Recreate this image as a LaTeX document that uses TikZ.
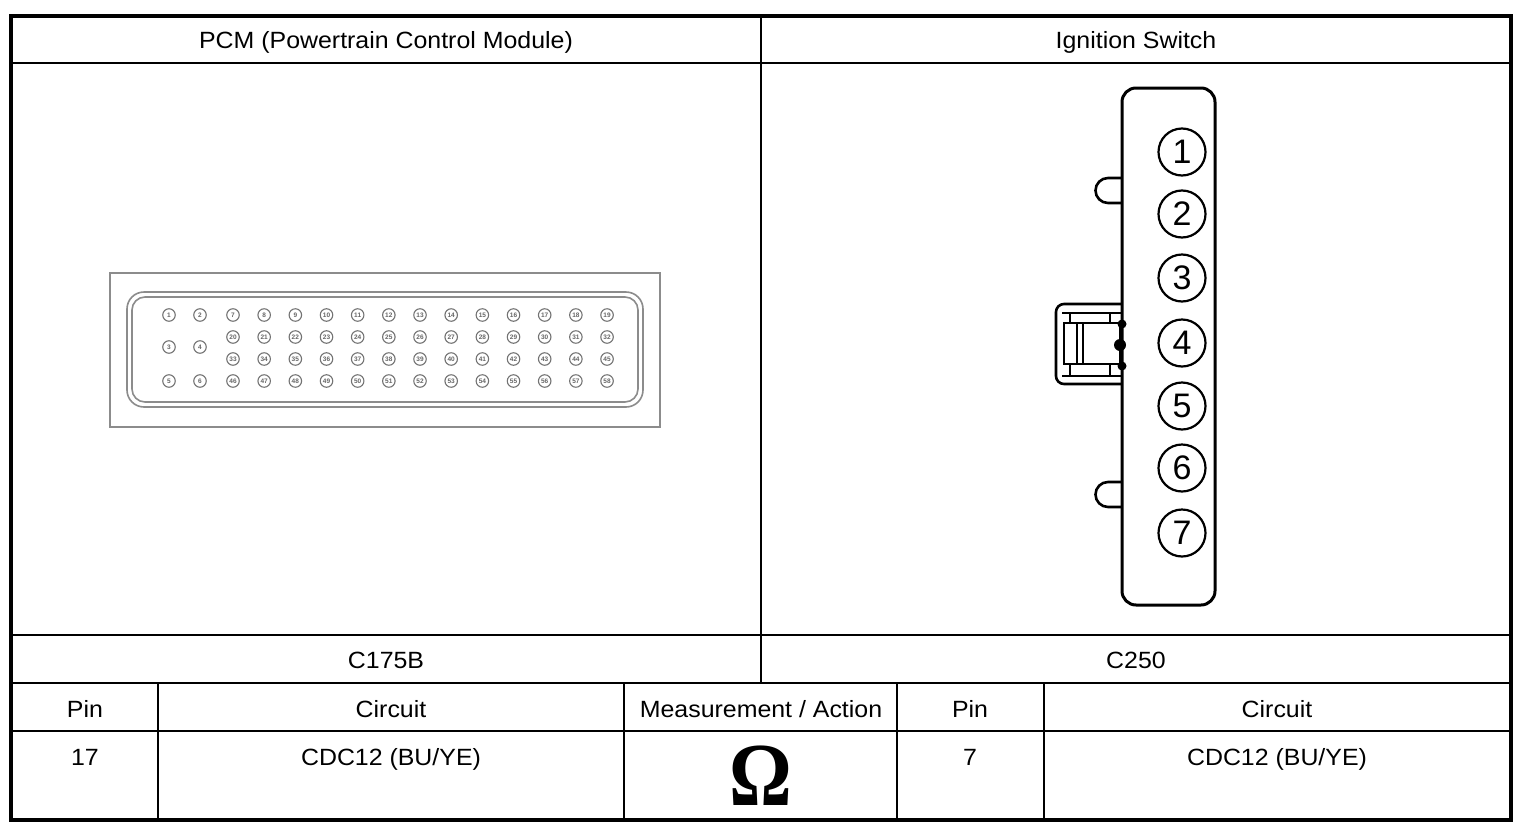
\documentclass[tikz,border=0pt]{standalone}
\usepackage{fontspec}
\setmainfont{Liberation Sans}
\newfontfamily\omegafont{Liberation Serif}
\begin{document}
\begin{tikzpicture}[x=1pt,y=-1pt,
  cellline/.style={line width=1.5pt,black},
  frameline/.style={line width=4pt,black},
  celltext/.style={inner sep=0pt,anchor=base,xscale=1.06,font=\fontsize{23.5}{26}\selectfont},
  pcmline/.style={draw=black!45,line width=1.6pt},
  pcmpin/.style={circle,draw=black!55,line width=1.1pt,minimum size=12.5pt,inner sep=0pt,
     font=\bfseries\fontsize{6.5}{6.5}\selectfont,text=black!60},
  igpin/.style={circle,draw=black,line width=2.2pt,minimum size=47pt,inner sep=0pt,
     font=\fontsize{34}{34}\selectfont},
  igline/.style={line width=2.6pt,black},
]
\useasboundingbox (0,0) rectangle (1526,830);
\fill[white] (0,0) rectangle (1526,830);

% ---------- table grid ----------
\draw[cellline] (11,63) -- (1510,63);
\draw[cellline] (11,635) -- (1510,635);
\draw[cellline] (11,683) -- (1510,683);
\draw[cellline] (11,731) -- (1510,731);
\draw[cellline] (761,15) -- (761,683);
\draw[cellline] (158,683) -- (158,820);
\draw[cellline] (624,683) -- (624,820);
\draw[cellline] (897,683) -- (897,820);
\draw[cellline] (1044,683) -- (1044,820);
\draw[frameline] (11,15.5) rectangle (1510.5,820);

% ---------- texts ----------
\node[celltext] (hpcm) at (386,48) {PCM (Powertrain Control Module)};
\node[celltext] (hign) at (1136,48) {Ignition Switch};
\node[celltext] (cpcm) at (386,668) {C175B};
\node[celltext] (cign) at (1136,668) {C250};
\node[celltext] (hpin1) at (85,717) {Pin};
\node[celltext] (hcir1) at (391,717) {Circuit};
\node[celltext] (hmeas) at (761,717) {Measurement / Action};
\node[celltext] (hpin2) at (970,717) {Pin};
\node[celltext] (hcir2) at (1277,717) {Circuit};
\node[celltext] (dpin1) at (85,765) {17};
\node[celltext] (dcir1) at (391,765) {CDC12 (BU/YE)};
\node[celltext] (dpin2) at (970,765) {7};
\node[celltext] (dcir2) at (1277,765) {CDC12 (BU/YE)};
\node[inner sep=0pt,font=\omegafont\bfseries\fontsize{90}{90}\selectfont,xscale=0.87] (omega) at (761,776) {Ω};

% ---------- PCM connector C175B ----------
\draw[pcmline] (110,273) rectangle (660,427);
\draw[pcmline,rounded corners=17pt] (127,292) rectangle (643,407);
\draw[pcmline,rounded corners=13pt] (132,297) rectangle (638,402);
\node[pcmpin] (p1) at (169,315) {1};
\node[pcmpin] (p2) at (200,315) {2};
\node[pcmpin] (p3) at (169,347) {3};
\node[pcmpin] (p4) at (200,347) {4};
\node[pcmpin] (p5) at (169,381) {5};
\node[pcmpin] (p6) at (200,381) {6};
\foreach \i in {0,...,12}{
  \pgfmathtruncatemacro{\na}{7+\i}
  \pgfmathtruncatemacro{\nb}{20+\i}
  \pgfmathtruncatemacro{\nc}{33+\i}
  \pgfmathtruncatemacro{\nd}{46+\i}
  \node[pcmpin] (p\na) at ({233+31.17*\i},315) {\na};
  \node[pcmpin] (p\nb) at ({233+31.17*\i},337) {\nb};
  \node[pcmpin] (p\nc) at ({233+31.17*\i},359) {\nc};
  \node[pcmpin] (p\nd) at ({233+31.17*\i},381) {\nd};
}

% ---------- Ignition switch connector C250 ----------
% tabs
\draw[igline] (1122,178) -- (1108,178) arc[start angle=270,end angle=90,radius=12.5] -- (1122,203);
\draw[igline] (1122,482) -- (1108,482) arc[start angle=270,end angle=90,radius=12.5] -- (1122,507);
% latch
\draw[igline,rounded corners=8pt] (1122,304) -- (1056,304) -- (1056,384) -- (1122,384);
\draw[line width=2pt] (1062,313) -- (1122,313);
\draw[line width=2pt] (1062,376) -- (1122,376);
\draw[line width=2pt] (1070,313) -- (1070,323) (1110,313) -- (1110,323);
\draw[line width=2pt] (1070,364) -- (1070,376) (1110,364) -- (1110,376);
\draw[igline] (1064,323) rectangle (1120,364);
\draw[line width=1.6pt] (1077,323) -- (1077,364) (1083,323) -- (1083,364);
\fill (1122,324) circle[radius=4.5];
\fill (1120,345) ellipse[x radius=6,y radius=6];
\fill (1122,366) circle[radius=4.5];
% body
\draw[line width=3pt,rounded corners=14pt] (1122,88) rectangle (1215,605);
\node[igpin] (s1) at (1182,152) {1};
\node[igpin] (s2) at (1182,214) {2};
\node[igpin] (s3) at (1182,278) {3};
\node[igpin] (s4) at (1182,343) {4};
\node[igpin] (s5) at (1182,406) {5};
\node[igpin] (s6) at (1182,468) {6};
\node[igpin] (s7) at (1182,533) {7};
\end{tikzpicture}
\end{document}
